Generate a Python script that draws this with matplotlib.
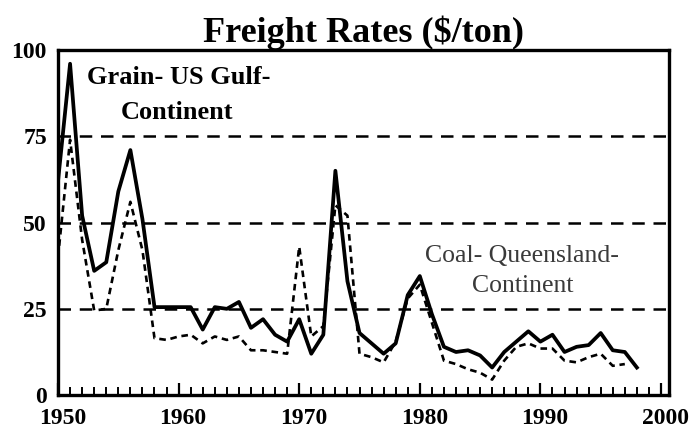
import matplotlib.pyplot as plt
from matplotlib.ticker import MultipleLocator
from matplotlib.transforms import ScaledTranslation

# freight rates, $/ton
grain_years = list(range(1950, 1999))
grain = [62, 96, 52, 36, 38.5, 59, 71, 51, 25.5, 25.5,
         25.5, 25.5, 19, 25.5, 25, 27, 19.5, 22, 17.5, 15.5,
         22, 12, 17.5, 65, 33, 18, 15, 12, 15, 29,
         34.5, 23.5, 14, 12.5, 13, 11.5, 8, 12.5, 15.5, 18.5,
         15.5, 17.5, 12.5, 14, 14.5, 18, 13, 12.5, 8]

coal_years = list(range(1950, 1998))
coal = [40, 74, 45, 24.5, 25, 42, 56, 42, 16.5, 16,
        17, 17.5, 15, 17, 16, 17, 13, 13, 12.5, 12,
        43, 17, 20, 55, 52, 12, 11, 9.5, 15.5, 28,
        32, 21, 10, 9, 7.5, 6.5, 4.5, 10, 14, 15,
        13.5, 13.5, 10, 9.5, 11, 12, 8.5, 9]

yticks = [0, 25, 50, 75, 100]
xticks = [1950, 1960, 1970, 1980, 1990, 2000]

plt.rcParams['font.family'] = ['Liberation Serif', 'DejaVu Serif']

fig = plt.figure(figsize=(6.94, 4.42), dpi=100)
ax = fig.add_axes([0.0836, 0.106, 0.881, 0.781])

# dashed grid at 25/50/75
for v in yticks[1:-1]:
    ax.axhline(v, color='black', lw=1.8, ls=(0, (5, 3.5)), zorder=1)

ax.plot(grain_years, grain, color='black', lw=2.7, zorder=3)
ax.plot(coal_years, coal, color='black', lw=1.9, ls=(0, (2.5, 1.8)), zorder=2)

ax.set_xlim(1950, 2000.7)
ax.set_ylim(0, 100)
ax.set_xticks(xticks)
ax.set_yticks(yticks)
ax.xaxis.set_minor_locator(MultipleLocator(1))
ax.tick_params(axis='x', which='major', direction='in', length=9, width=1.6,
               labelsize=17, pad=9)
ax.tick_params(axis='x', which='minor', direction='in', length=6, width=1.4)
ax.tick_params(axis='y', length=0, labelsize=17, pad=8)
shift = ScaledTranslation(0.045, 0, fig.dpi_scale_trans)
for lab in ax.get_xticklabels():
    lab.set_fontweight('bold')
    lab.set_transform(lab.get_transform() + shift)
for lab in ax.get_yticklabels():
    lab.set_fontweight('bold')

for s in ax.spines.values():
    s.set_linewidth(2.4)

ax.set_title('Freight Rates ($/ton)', fontsize=26, fontweight='bold', pad=5)

ax.text(1952.4, 92, 'Grain- US Gulf-', fontsize=19, fontweight='bold',
        ha='left', va='center')
ax.text(1959.9, 82, 'Continent', fontsize=19, fontweight='bold',
        ha='center', va='center')
ax.text(1988.5, 36, 'Coal- Queensland-\nContinent', fontsize=18.5,
        ha='center', va='center', color='#3a3a3a', linespacing=1.45)

fig.savefig('out.png', dpi=100)
